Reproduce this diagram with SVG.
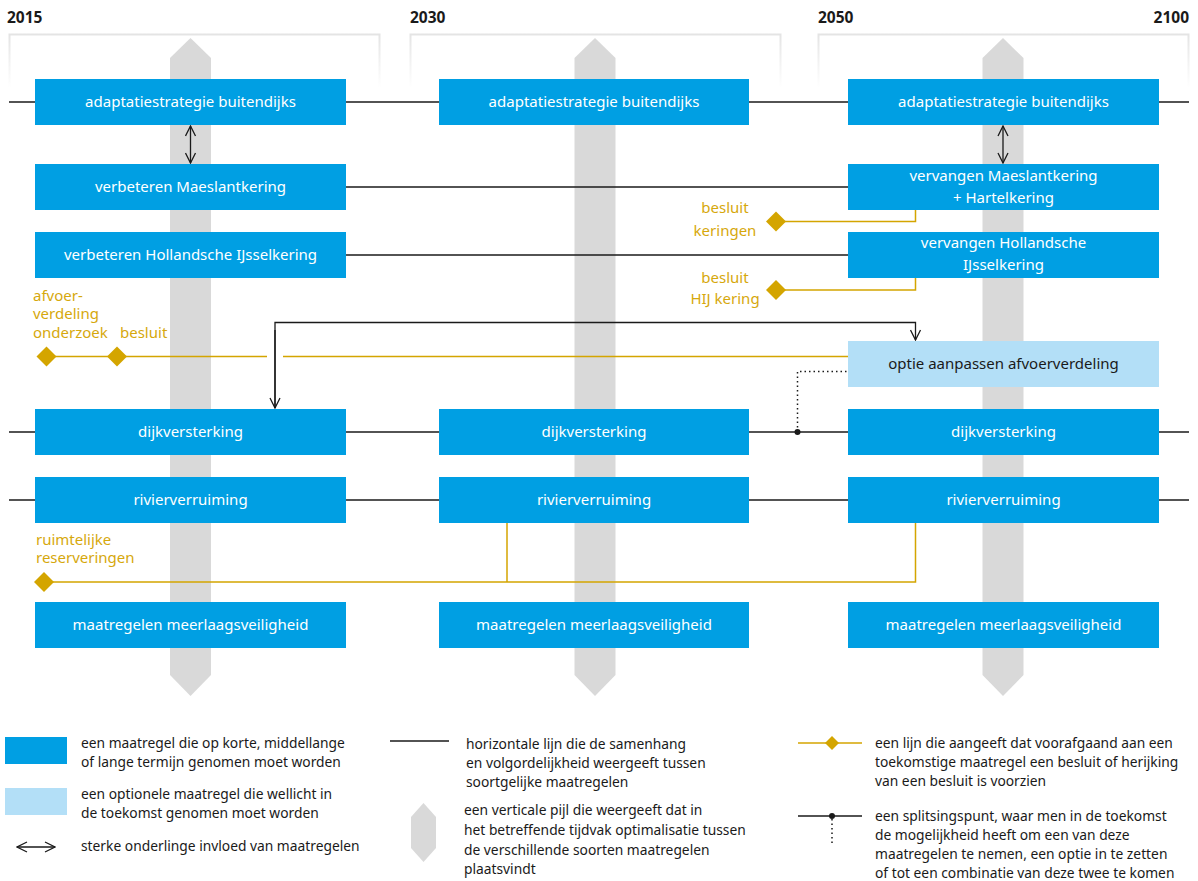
<svg xmlns="http://www.w3.org/2000/svg" width="1198" height="881" viewBox="0 0 1198 881">
<defs>
<style>
.t{font-family:"Noto Sans","Open Sans",sans-serif;font-size:13.8px}
.w{fill:#fff;text-anchor:middle;font-size:15px}
.d{fill:#1a1a1a}
.g{fill:#d6a80c;font-size:15px}
.yr{font-family:"Noto Sans","Open Sans",sans-serif;font-size:15.5px;font-weight:bold;fill:#1a1a1a}
.box{fill:#009fe3}
.opt{fill:#b3dff7}
.ln{stroke:#1a1a1a;stroke-width:1.3;fill:none}
.gl{stroke:#d4a500;stroke-width:1.5;fill:none}
.dia{fill:#d4a500}
.pil{fill:#d9d9d9}
.dot{stroke:#1a1a1a;stroke-width:1.5;fill:none;stroke-dasharray:1.5 3}
</style>
<linearGradient id="fr" x1="0" y1="0" x2="0" y2="1">
<stop offset="0" stop-color="#e4e4e4"/>
<stop offset="1" stop-color="#ffffff"/>
</linearGradient>
<marker id="ah" viewBox="0 0 12 12" refX="11" refY="6" markerWidth="12" markerHeight="12" markerUnits="userSpaceOnUse" orient="auto-start-reverse">
<path d="M1,1 L11,6 L1,11" fill="none" stroke="#1a1a1a" stroke-width="1.3"/>
</marker>
</defs>
<rect width="1198" height="881" fill="#fff"/>

<g id="years">
<text class="yr" x="7" y="23">2015</text>
<text class="yr" x="410" y="23">2030</text>
<text class="yr" x="818" y="23">2050</text>
<text class="yr" x="1189" y="23" text-anchor="end">2100</text>
</g>

<g id="frames">
<path d="M9.5,88 V34.5 H379.5 V88" fill="none" stroke="url(#fr)" stroke-width="2"/>
<path d="M410.5,88 V34.5 H780.5 V88" fill="none" stroke="url(#fr)" stroke-width="2"/>
<path d="M818.5,88 V34.5 H1188.5 V88" fill="none" stroke="url(#fr)" stroke-width="2"/>
</g>

<g id="pillars">
<polygon class="pil" points="190.5,38 211,58 211,675 190.5,696 170,675 170,58"/>
<polygon class="pil" points="595,38 615.5,58 615.5,675 595,696 574.5,675 574.5,58"/>
<polygon class="pil" points="1003,38 1023.5,58 1023.5,675 1003,696 982.5,675 982.5,58"/>
</g>

<g id="connectors">
<line class="ln" x1="9" y1="102" x2="1189" y2="102"/>
<line class="ln" x1="346" y1="187" x2="848" y2="187"/>
<line class="ln" x1="346" y1="255" x2="848" y2="255"/>
<line class="ln" x1="9" y1="432" x2="1189" y2="432"/>
<line class="ln" x1="9" y1="500" x2="1189" y2="500"/>
<line class="ln" x1="190.5" y1="126" x2="190.5" y2="163" marker-start="url(#ah)" marker-end="url(#ah)"/>
<line class="ln" x1="1003" y1="126" x2="1003" y2="163" marker-start="url(#ah)" marker-end="url(#ah)"/>
<path class="ln" d="M275,408 V322.5 H915.5 V340" marker-end="url(#ah)"/>
<path class="ln" d="M275,330 V408" marker-end="url(#ah)"/>
<path class="dot" d="M797.5,432 V371.5 H848"/>
<circle cx="797.5" cy="432" r="3" fill="#1a1a1a"/>
<path class="gl" d="M915.5,210 V221.5 H776"/>
<path class="gl" d="M915.5,278 V290 H776"/>
<line class="gl" x1="46" y1="356.5" x2="267" y2="356.5"/>
<line class="gl" x1="283" y1="356.5" x2="848" y2="356.5"/>
<path class="gl" d="M43,582 H915.5 V523"/>
<line class="gl" x1="507" y1="523" x2="507" y2="582"/>
<polygon class="dia" points="776,211.5 786,221.5 776,231.5 766,221.5"/>
<polygon class="dia" points="776,280 786,290 776,300 766,290"/>
<polygon class="dia" points="46.5,346.5 56.5,356.5 46.5,366.5 36.5,356.5"/>
<polygon class="dia" points="117,346.5 127,356.5 117,366.5 107,356.5"/>
<polygon class="dia" points="44,572 54,582 44,592 34,582"/>
</g>

<g id="n-adapt1"><rect class="box" x="35" y="79" width="311" height="46"/><text class="t w" x="190.5" y="107">adaptatiestrategie buitendijks</text></g>
<g id="n-adapt2"><rect class="box" x="439" y="79" width="310" height="46"/><text class="t w" x="594" y="107">adaptatiestrategie buitendijks</text></g>
<g id="n-adapt3"><rect class="box" x="848" y="79" width="311" height="46"/><text class="t w" x="1003.5" y="107">adaptatiestrategie buitendijks</text></g>

<g id="n-maeslant1"><rect class="box" x="35" y="164" width="311" height="46"/><text class="t w" x="190.5" y="192">verbeteren Maeslantkering</text></g>
<g id="n-maeslant3"><rect class="box" x="848" y="164" width="311" height="46"/><text class="t w" x="1003.5" y="181">vervangen Maeslantkering</text><text class="t w" x="1003.5" y="203">+ Hartelkering</text></g>

<g id="n-hij1"><rect class="box" x="35" y="232" width="311" height="46"/><text class="t w" x="190.5" y="260">verbeteren Hollandsche IJsselkering</text></g>
<g id="n-hij3"><rect class="box" x="848" y="232" width="311" height="46"/><text class="t w" x="1003.5" y="248">vervangen Hollandsche</text><text class="t w" x="1003.5" y="270">IJsselkering</text></g>

<g id="n-optie"><rect class="opt" x="848" y="341" width="311" height="46"/><text class="t d" x="1003.5" y="369" text-anchor="middle" style="font-size:15px">optie aanpassen afvoerverdeling</text></g>

<g id="n-dijk1"><rect class="box" x="35" y="409" width="311" height="46"/><text class="t w" x="190.5" y="437">dijkversterking</text></g>
<g id="n-dijk2"><rect class="box" x="439" y="409" width="310" height="46"/><text class="t w" x="594" y="437">dijkversterking</text></g>
<g id="n-dijk3"><rect class="box" x="848" y="409" width="311" height="46"/><text class="t w" x="1003.5" y="437">dijkversterking</text></g>

<g id="n-rivier1"><rect class="box" x="35" y="477" width="311" height="46"/><text class="t w" x="190.5" y="505">rivierverruiming</text></g>
<g id="n-rivier2"><rect class="box" x="439" y="477" width="310" height="46"/><text class="t w" x="594" y="505">rivierverruiming</text></g>
<g id="n-rivier3"><rect class="box" x="848" y="477" width="311" height="46"/><text class="t w" x="1003.5" y="505">rivierverruiming</text></g>

<g id="n-mlv1"><rect class="box" x="35" y="602" width="311" height="46"/><text class="t w" x="190.5" y="630">maatregelen meerlaagsveiligheid</text></g>
<g id="n-mlv2"><rect class="box" x="439" y="602" width="310" height="46"/><text class="t w" x="594" y="630">maatregelen meerlaagsveiligheid</text></g>
<g id="n-mlv3"><rect class="box" x="848" y="602" width="311" height="46"/><text class="t w" x="1003.5" y="630">maatregelen meerlaagsveiligheid</text></g>

<g id="gold-labels">
<text class="t g" x="725" y="213" text-anchor="middle">besluit</text>
<text class="t g" x="725" y="236" text-anchor="middle">keringen</text>
<text class="t g" x="725" y="283" text-anchor="middle">besluit</text>
<text class="t g" x="725" y="304" text-anchor="middle">HIJ kering</text>
<text class="t g" x="33" y="301">afvoer-</text>
<text class="t g" x="33" y="319">verdeling</text>
<text class="t g" x="33" y="338">onderzoek</text>
<text class="t g" x="120" y="338">besluit</text>
<text class="t g" x="36" y="545">ruimtelijke</text>
<text class="t g" x="36" y="563">reserveringen</text>
</g>

<g id="legend">
<rect class="box" x="5" y="737" width="62" height="27"/>
<text class="t d" x="81" y="748">een maatregel die op korte, middellange</text>
<text class="t d" x="81" y="767">of lange termijn genomen moet worden</text>
<rect class="opt" x="5" y="788" width="62" height="27"/>
<text class="t d" x="81" y="799">een optionele maatregel die wellicht in</text>
<text class="t d" x="81" y="818">de toekomst genomen moet worden</text>
<line class="ln" x1="17" y1="847" x2="55" y2="847" marker-start="url(#ah)" marker-end="url(#ah)"/>
<text class="t d" x="81" y="851">sterke onderlinge invloed van maatregelen</text>

<line class="ln" x1="390" y1="741" x2="449" y2="741"/>
<text class="t d" x="466" y="749">horizontale lijn die de samenhang</text>
<text class="t d" x="466" y="768">en volgordelijkheid weergeeft tussen</text>
<text class="t d" x="466" y="787">soortgelijke maatregelen</text>
<polygon class="pil" points="423.5,803 436,817 436,848 423.5,862 411,848 411,817"/>
<text class="t d" x="464" y="815">een verticale pijl die weergeeft dat in</text>
<text class="t d" x="464" y="835">het betreffende tijdvak optimalisatie tussen</text>
<text class="t d" x="464" y="855">de verschillende soorten maatregelen</text>
<text class="t d" x="464" y="874">plaatsvindt</text>

<line class="gl" x1="798" y1="743" x2="862" y2="743"/>
<polygon class="dia" points="832,736 839,743 832,750 825,743"/>
<text class="t d" x="875" y="748">een lijn die aangeeft dat voorafgaand aan een</text>
<text class="t d" x="875" y="767">toekomstige maatregel een besluit of herijking</text>
<text class="t d" x="875" y="786">van een besluit is voorzien</text>

<line class="ln" x1="798" y1="816" x2="862" y2="816"/>
<line class="dot" x1="832" y1="819" x2="832" y2="846"/>
<circle cx="832" cy="816" r="3" fill="#1a1a1a"/>
<text class="t d" x="875" y="821">een splitsingspunt, waar men in de toekomst</text>
<text class="t d" x="875" y="840">de mogelijkheid heeft om een van deze</text>
<text class="t d" x="875" y="859">maatregelen te nemen, een optie in te zetten</text>
<text class="t d" x="875" y="878">of tot een combinatie van deze twee te komen</text>
</g>
</svg>
